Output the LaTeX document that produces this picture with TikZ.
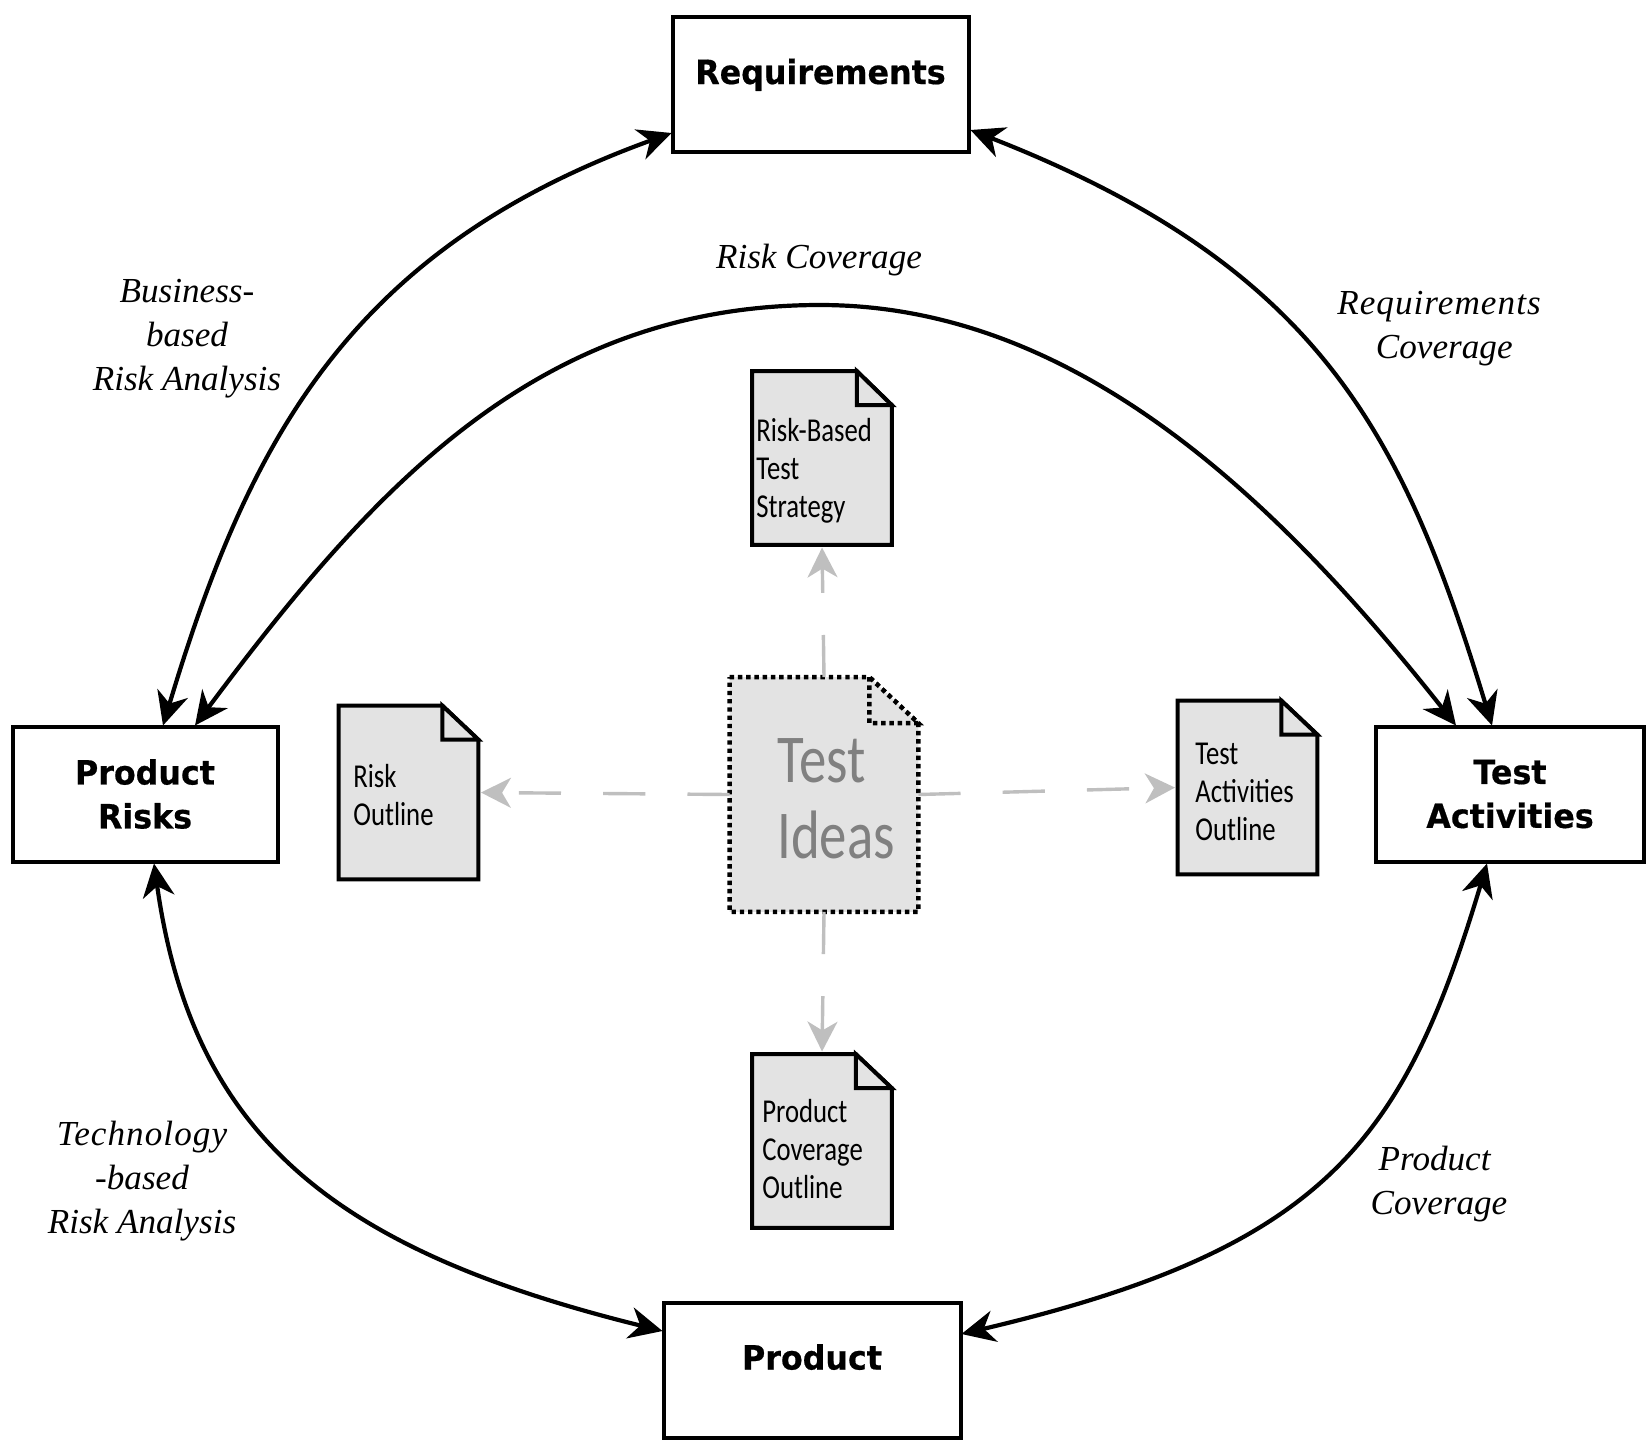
\documentclass[tikz,border=0pt]{standalone}
\usepackage{fontspec}
\usetikzlibrary{arrows.meta,calc}
\setmainfont{Liberation Serif}
\newfontfamily\notewide[LetterSpace=3]{Liberation Serif}
\newfontfamily\boxfont[FakeStretch=0.95,BoldFeatures={FakeStretch=0.95,FakeBold=0.5}]{DejaVu Sans}
\newfontfamily\handfont[FakeStretch=0.8]{Carlito}
\definecolor{sheetfill}{HTML}{E3E3E3}
\definecolor{linkgray}{HTML}{BFBFBF}
\definecolor{ideagray}{HTML}{808080}
\tikzset{
  mainbox/.style={draw=black,line width=4*0.02cm,fill=white,inner sep=0pt,align=center,
    font=\boxfont\bfseries\fontsize{19}{25}\selectfont},
  sheet/.style={inner sep=0pt,minimum width=139*0.02cm,minimum height=173*0.02cm},
  sheetline/.style={draw=black,line width=4*0.02cm,fill=sheetfill,line join=miter},
  sheettext/.style={inner sep=0pt,anchor=west,align=left,font=\handfont\fontsize{19}{21.7}\selectfont},
  note/.style={inner sep=0pt,align=center,font=\itshape\fontsize{20}{25}\selectfont},
  biarrow/.style={line width=4.2*0.02cm,{Stealth[length=19pt,width=18pt,inset=6pt]}-{Stealth[length=19pt,width=18pt,inset=6pt]}},
  idealink/.style={linkgray,line width=3.4*0.02cm,dash pattern=on 24pt off 24pt,shorten >=1.5pt,-{Stealth[length=17pt,width=17pt,inset=5pt]}}
}
\newcommand\sheetpath[4][]{%
  \path[sheetline,#1] (#2.north west) -- ([shift={(-#3,0)}]#2.north east) -- ([shift={(0,#4)}]#2.north east)
    -- (#2.south east) -- (#2.south west) -- cycle;
  \path[sheetline,#1] ([shift={(-#3,0)}]#2.north east) -- ([shift={(-#3,#4)}]#2.north east)
    -- ([shift={(0,#4)}]#2.north east) -- cycle;
}
\begin{document}
\begin{tikzpicture}[x=0.02cm,y=-0.02cm]
\useasboundingbox (0,0) rectangle (1648,1440);
% main boxes
\node[mainbox,minimum width=296*0.02cm,minimum height=135*0.02cm,text depth=15pt] (req) at (820.5,84.5) {Requirements};
\node[mainbox,minimum width=265*0.02cm,minimum height=135*0.02cm] (risks) at (145,794) {Product\\Risks};
\node[mainbox,minimum width=268*0.02cm,minimum height=135*0.02cm] (act) at (1510,794) {Test\\Activities};
\node[mainbox,minimum width=297*0.02cm,minimum height=135*0.02cm,text depth=15pt] (prod) at (812,1370) {Product};
% sheets
\node[sheet] (strategy) at (822,458) {};
\sheetpath{strategy}{35}{34}
\node[sheet] (riskout) at (408.5,792.5) {};
\sheetpath{riskout}{36}{34}
\node[sheet] (actout) at (1247.5,787.5) {};
\sheetpath{actout}{36}{34}
\node[sheet] (covout) at (822,1141) {};
\sheetpath{covout}{36}{34}
\node[inner sep=0pt,minimum width=188*0.02cm,minimum height=234*0.02cm] (ideas) at (824,794.5) {};
\sheetpath[line width=4.5*0.02cm,line cap=butt,dash pattern=on 2.5pt off 2.2pt]{ideas}{49}{46}
% sheet texts
\node[sheettext] (strategytext) at (756,470.5) {Risk-Based\\Test\\Strategy};
\node[sheettext] (riskouttext) at (353,795) {Risk\\Outline};
\node[sheettext] (actouttext) at (1195,792) {Test\\Activities\\Outline};
\node[sheettext] (covouttext) at (762,1149) {Product\\Coverage\\Outline};
\node[inner sep=0pt,anchor=west,align=left,text=ideagray,font=\handfont\fontsize{39}{43}\selectfont] (ideastext) at (777,799) {Test\\Ideas};
% idea links
\draw[idealink] (ideas.north) -- (strategy.south);
\draw[idealink] (ideas.west) -- (riskout.east);
\draw[idealink] (ideas.east) -- (actout.west);
\draw[idealink] (ideas.south) -- (covout.north);
% outer arcs
\draw[biarrow] ([shift={(1,-21)}]req.south west) .. controls (351,249) and (249,439) .. ([shift={(18,1)}]risks.north);
\draw[biarrow] ([shift={(0,-24)}]req.south east) .. controls (1321,267) and (1404,436) .. ([shift={(-18,1)}]act.north);
\draw[biarrow] ([shift={(50,1)}]risks.north) .. controls (375,484) and (540,305) .. (820,305)
   .. controls (1070,305) and (1270,490) .. ([shift={(-54,1)}]act.north);
\draw[biarrow] ([shift={(9,0)}]risks.south) .. controls (192.5,1137) and (335,1250) .. ([shift={(1,-39)}]prod.west);
\draw[biarrow] ([shift={(-23,0)}]act.south) .. controls (1404,1140) and (1327,1248) .. ([shift={(-1,-36)}]prod.east);
% labels
\node[note] (lbiz) at (187,339) {Business-\\based\\Risk Analysis};
\node[note] (lcov) at (819,260) {Risk Coverage};
\node[note] (lreq) at (1439,329) {{\notewide Requirements}\\\hspace*{6pt}Coverage};
\node[note] (ltech) at (142,1181) {{\notewide Technology}\\-based\\Risk Analysis};
\node[note] (lprod) at (1439,1184) {Product\hspace*{5pt}\\Coverage};
\end{tikzpicture}
\end{document}
